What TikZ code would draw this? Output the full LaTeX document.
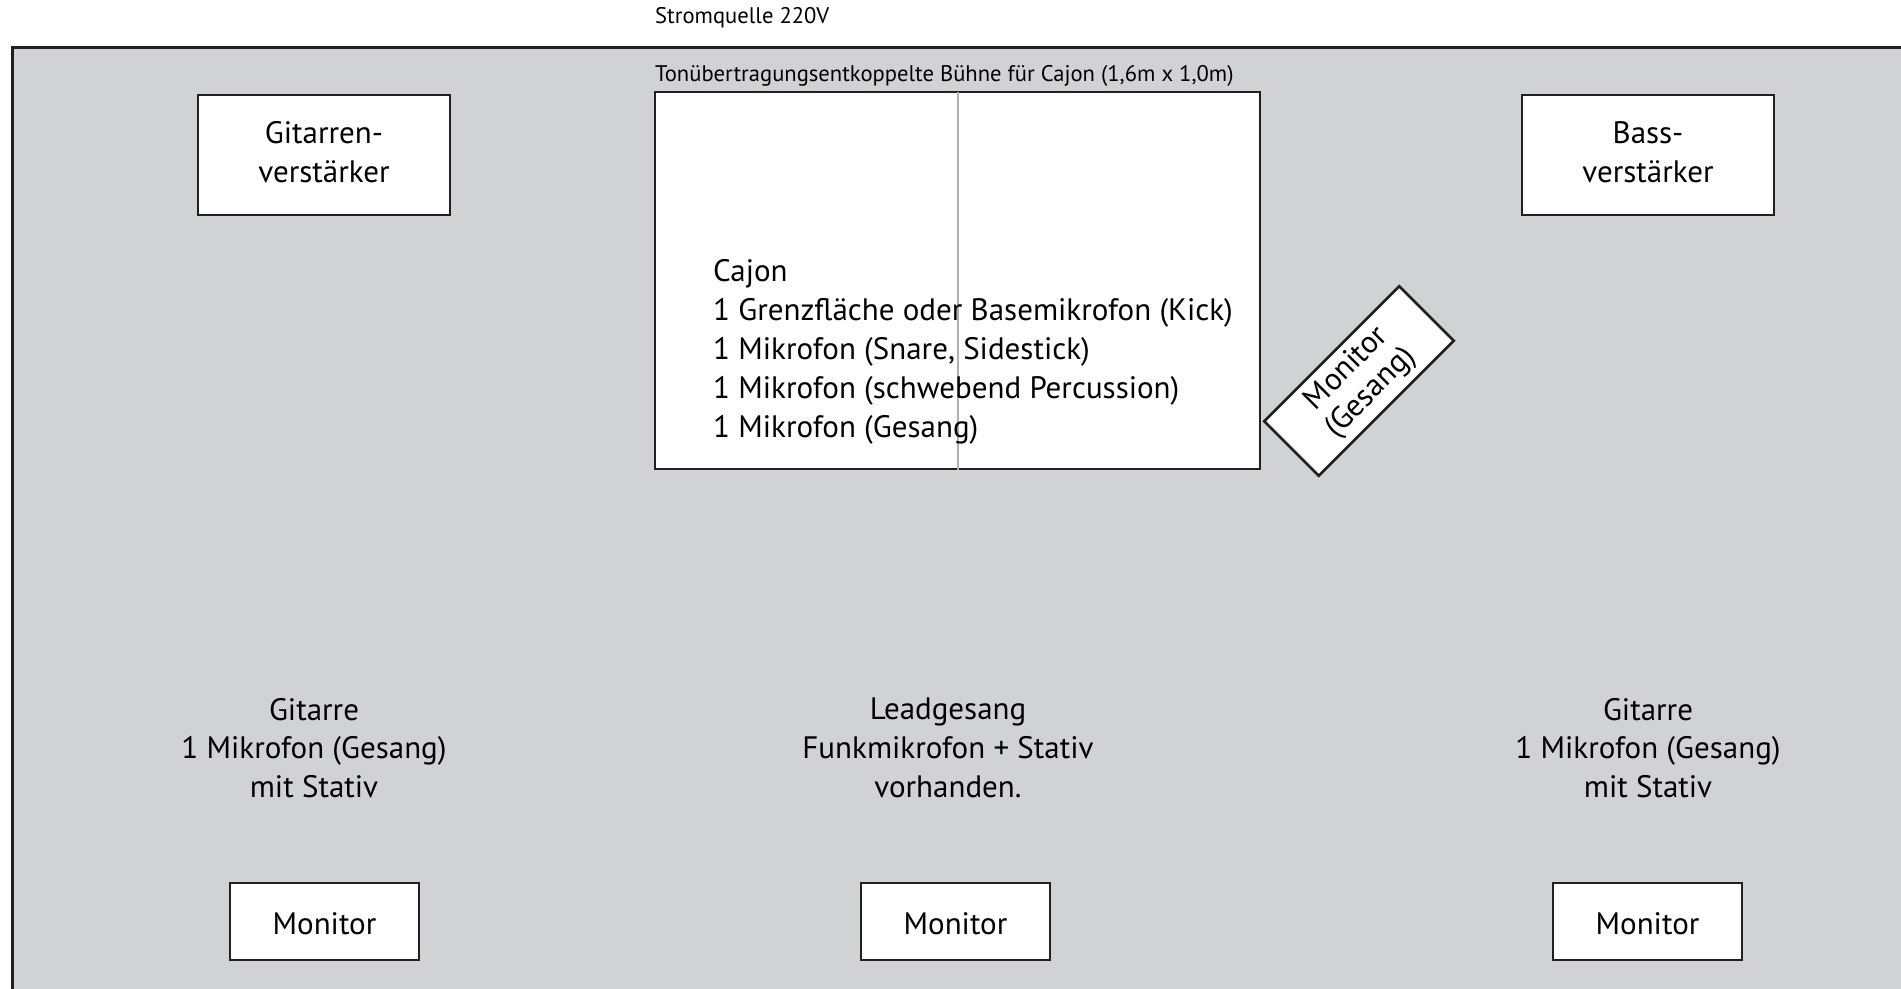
\documentclass[tikz,border=0pt]{standalone}
\usepackage{fontspec}
\setmainfont{PT Sans}
\usetikzlibrary{positioning}
\definecolor{floorgrey}{HTML}{D1D2D4}
\definecolor{linegrey}{HTML}{231F20}
\definecolor{seamgrey}{HTML}{B0B0B0}
\tikzset{%
  every box/.style={
    draw=linegrey,
    line width=2.6pt,
    fill=white,
    align=center,
    inner sep=0pt
  },
  big text/.style={
    font=\fontsize{31}{38.8}\selectfont
  },
  small text/.style={
    font=\fontsize{22.6}{27}\selectfont
  },
}

\begin{document}
\begin{tikzpicture}[x=1pt, y=-1pt]

    \useasboundingbox (0,0) rectangle (1901,988);
    \clip (0,0) rectangle (1901,988);

    \draw [fill=floorgrey, draw=linegrey, line width=3pt] (12,47) rectangle (1920,1010);

    \node [small text, anchor=base west, inner sep=0pt] (power) at (655,23) {Stromquelle 220V};
    \node [small text, anchor=base west, inner sep=0pt] (stage-label) at (655,81)
        {Tonübertragungsentkoppelte Bühne für Cajon (1,6m x 1,0m)};

    \node [every box, minimum width=605pt, minimum height=377pt] (stage) at (957.5,280.5) {};
    \draw [seamgrey, line width=2pt] (stage.north) ++(0.5,1.3) coordinate (seam-top)
        -- (seam-top |- stage.south) coordinate (seam-bottom);

    \node [big text, anchor=base west, align=left, inner sep=0pt] (cajon) at (713,437)
        {Cajon\\
         1 Grenzfläche oder Basemikrofon (Kick)\\
         1 Mikrofon (Snare, Sidestick)\\
         1 Mikrofon (schwebend Percussion)\\
         1 Mikrofon (Gesang)};

    \node [every box, big text, minimum width=252pt, minimum height=120pt] (guitar-amp) at (324,155)
        {Gitarren-\\verstärker\vphantom{g}};
    \node [every box, big text, minimum width=252pt, minimum height=120pt] (bass-amp) at (1648,155)
        {Bass-\\verstärker\vphantom{g}};

    \node [every box, big text, minimum width=191pt, minimum height=77pt, rotate=45,
           font=\fontsize{31}{34}\selectfont] (cajon-monitor)
        at (1359,381) {Monitor\\(Gesang)};

    \foreach \n/\xt/\xm/\t in {left/314/324.5/{Gitarre\\1 Mikrofon (Gesang)\\mit Stativ},
                               mid/948/955.5/{Leadgesang\\Funkmikrofon + Stativ\\vorhanden.},
                               right/1648/1647.5/{Gitarre\\1 Mikrofon (Gesang)\\mit Stativ}}
    {
    \node [big text, align=center, inner sep=0pt] (player-\n) at (\xt,748) {\t};
    \node [every box, big text, minimum width=189pt, minimum height=77pt, text height=26pt]
        (monitor-\n) at (\xm,921.5) {Monitor};
    }

\end{tikzpicture}
\end{document}
